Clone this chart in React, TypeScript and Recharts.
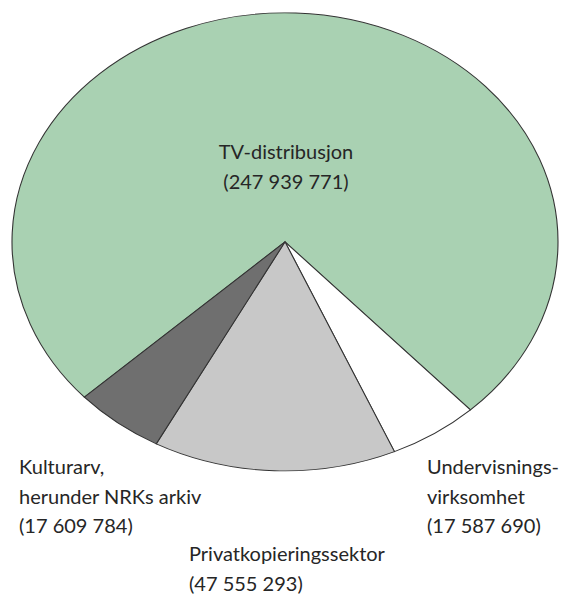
import React from 'react';
import { PieChart, Pie, Cell } from 'recharts';

// Segment data, in drawing order (clockwise)
const segmentNames: string[] = [
  'TV-distribusjon',
  'Undervisningsvirksomhet',
  'Privatkopieringssektor',
  'Kulturarv, herunder NRKs arkiv',
];
const segmentValues: number[] = [247939771, 17587690, 47555293, 17609784];
const segmentColors: string[] = ['#a9d1b2', '#ffffff', '#c8c8c8', '#6f6f6f'];

// Label text lines, one entry per segment
const labelLines: string[][] = [
  ['TV-distribusjon', '(247 939 771)'],
  ['Undervisnings-', 'virksomhet', '(17 587 690)'],
  ['Privatkopieringssektor', '(47 555 293)'],
  ['Kulturarv,', 'herunder NRKs arkiv', '(17 609 784)'],
];

// where each label box sits on the page
const labelLayout: { left: number; top: number; align: 'left' | 'center' }[] = [
  { left: 186, top: 137, align: 'center' },
  { left: 427, top: 452, align: 'left' },
  { left: 189, top: 539, align: 'left' },
  { left: 19, top: 452, align: 'left' },
];

const W = 579;
const H = 595;
const RX = 273;
const RY = 229;
const SCALE_Y = RY / RX;
const CHART_H = 560;
const CX = 285;
const CY = 280;
const PAGE_CY = 242;

const fmt = (n: number) => n.toLocaleString('nb-NO');

const App = () => {
  const data = segmentNames.map((name, i) => ({ name, value: segmentValues[i] }));
  // first slice starts lower left and runs clockwise
  const start = -137.3;

  return (
    <div
      style={{
        position: 'absolute',
        left: 0,
        top: 0,
        width: W,
        height: H,
        background: '#fff',
        overflow: 'hidden',
        fontFamily: 'Lato, "Noto Sans", sans-serif',
      }}
    >
      {/* pie is drawn round and squashed into an ellipse */}
      <div
        style={{
          position: 'absolute',
          left: 0,
          top: PAGE_CY - CY * SCALE_Y,
          width: W,
          height: CHART_H,
          transform: `scaleY(${SCALE_Y})`,
          transformOrigin: '0 0',
        }}
      >
        <PieChart width={W} height={CHART_H} margin={{ top: 0, right: 0, bottom: 0, left: 0 }}>
          <Pie
            data={data}
            dataKey="value"
            nameKey="name"
            cx={CX}
            cy={CY}
            innerRadius={0}
            outerRadius={RX}
            startAngle={start}
            endAngle={start - 360}
            stroke="#333"
            strokeWidth={1.1}
            isAnimationActive={false}
          >
            {data.map((d, i) => (
              <Cell key={d.name} fill={segmentColors[i]} />
            ))}
          </Pie>
        </PieChart>
      </div>

      {/* labels */}
      {labelLines.map((lines, i) => (
        <div
          key={segmentNames[i]}
          title={`${segmentNames[i]}: ${fmt(segmentValues[i])}`}
          style={{
            position: 'absolute',
            left: labelLayout[i].left,
            top: labelLayout[i].top,
            width: labelLayout[i].align === 'center' ? 200 : undefined,
            textAlign: labelLayout[i].align,
            fontSize: 20,
            lineHeight: '29.5px',
            color: '#262626',
            whiteSpace: 'nowrap',
          }}
        >
          {lines.map((l) => (
            <div key={l}>{l}</div>
          ))}
        </div>
      ))}
    </div>
  );
};

export default App;
